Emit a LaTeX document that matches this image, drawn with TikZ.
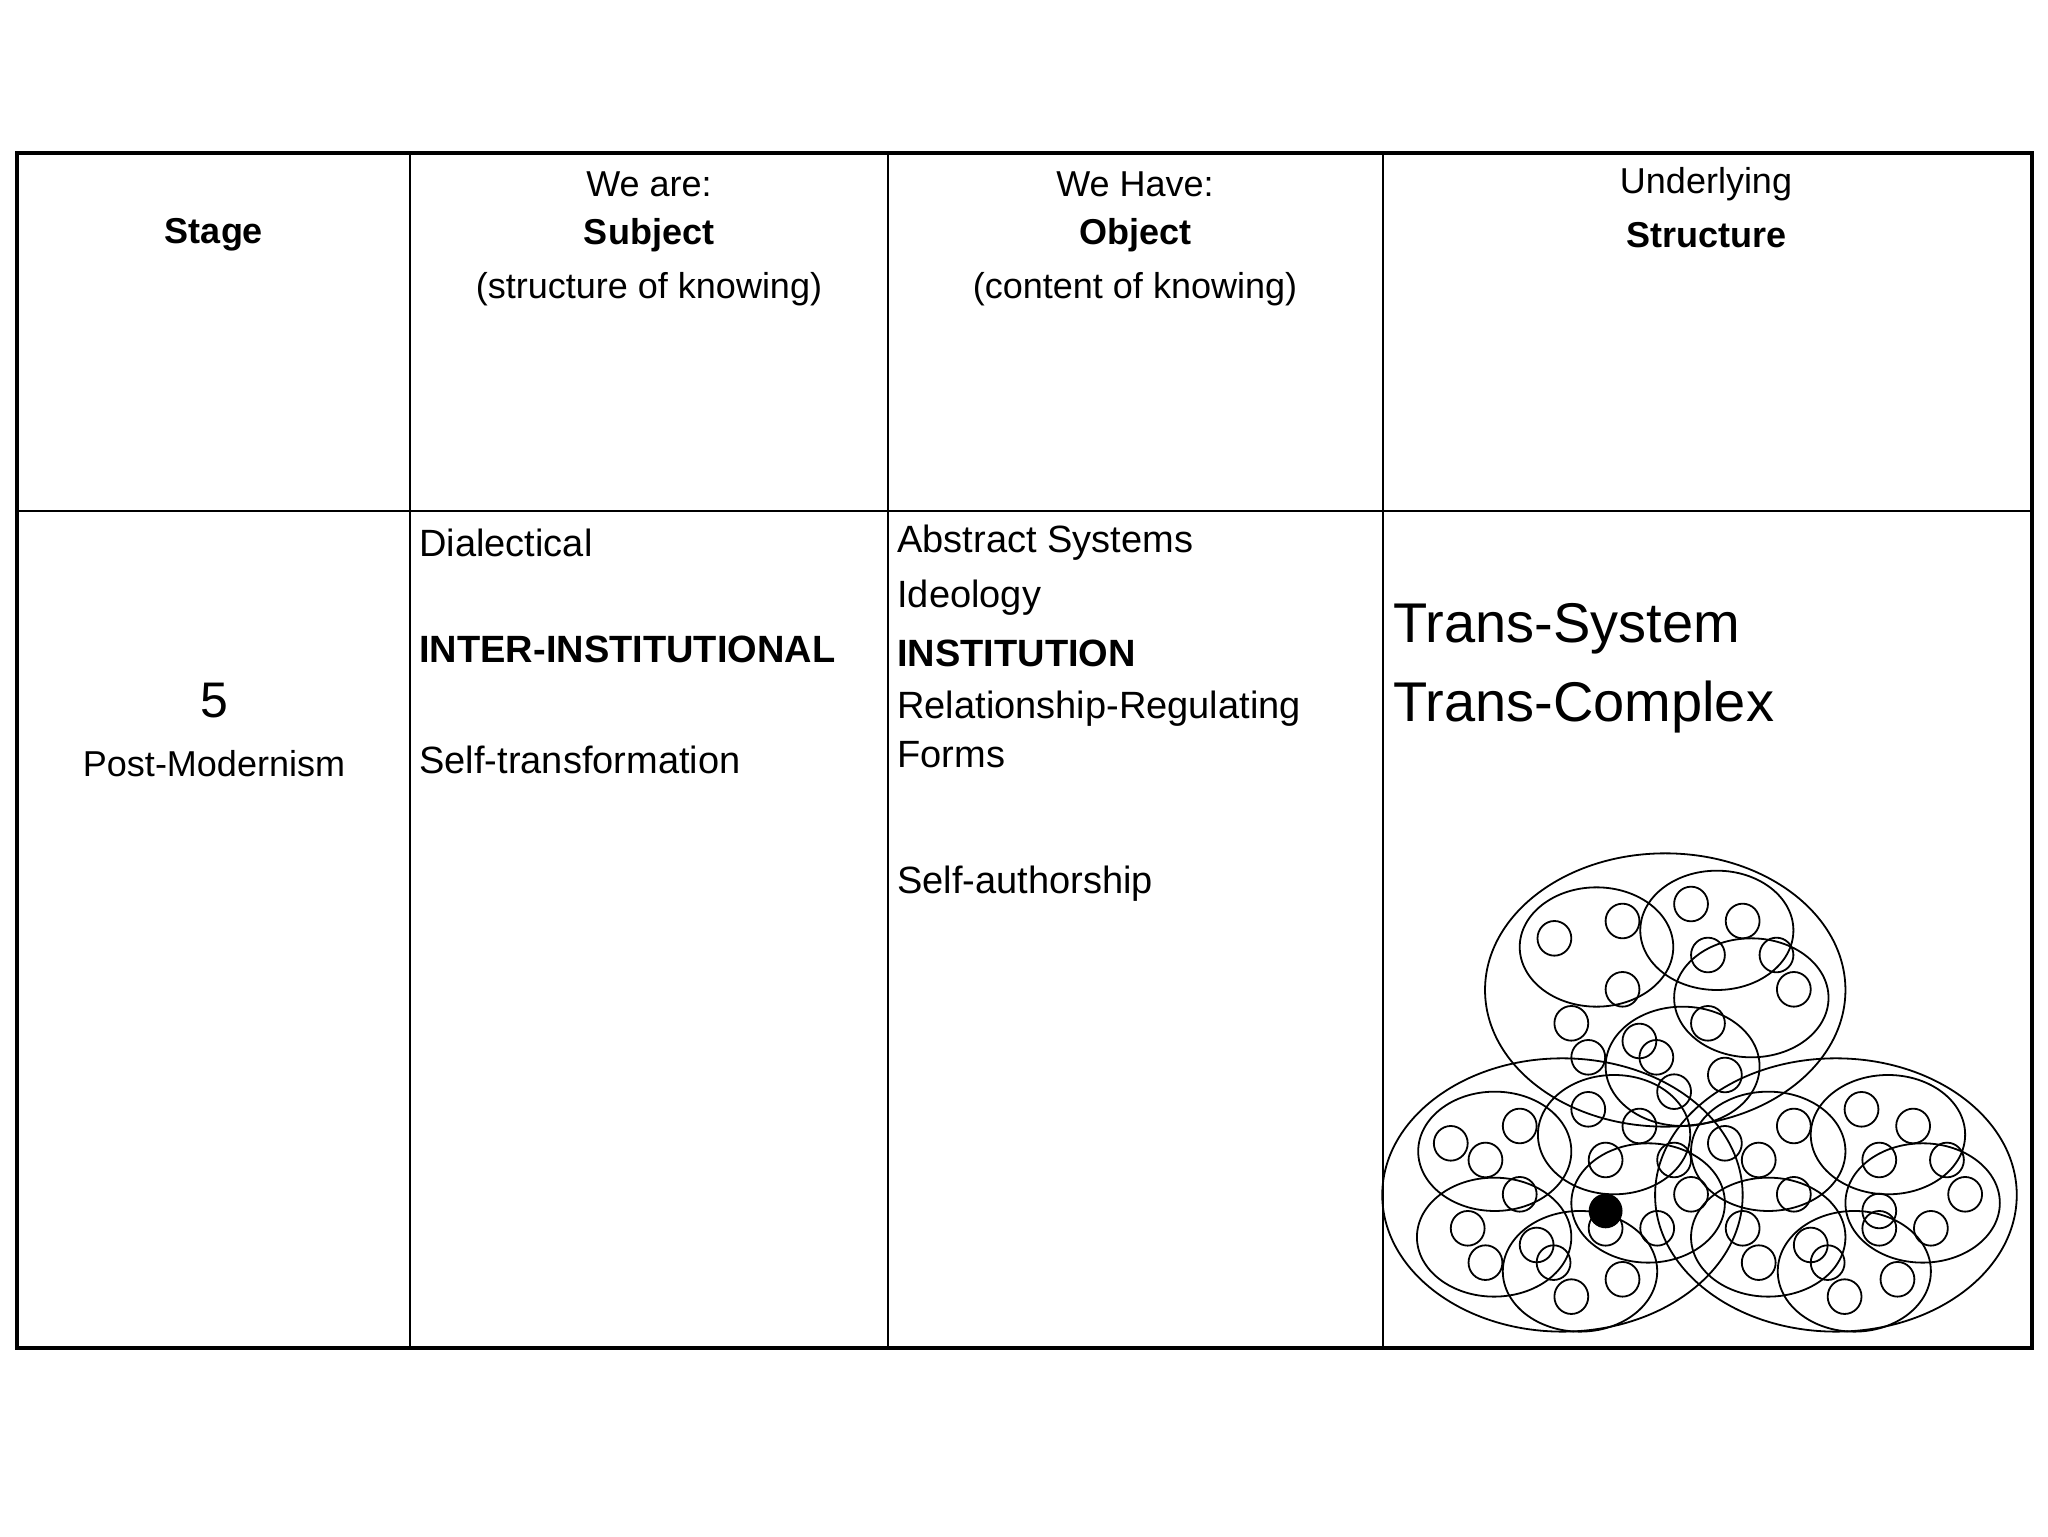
\documentclass[tikz,border=0pt]{standalone}
\usepackage{fontspec}
\setmainfont{Liberation Sans}
\begin{document}
\begin{tikzpicture}[x=0.5pt,y=-0.5pt,
  hd/.style={font=\fontsize{18}{20}\selectfont,anchor=center,inner sep=0},
  bd/.style={font=\fontsize{19}{21}\selectfont,anchor=west,inner sep=0},
  big/.style={font=\fontsize{28}{30}\selectfont,anchor=west,inner sep=0},
  ring/.style={draw=black,line width=0.9pt}]
\useasboundingbox (0,0) rectangle (2048,1536);
\fill[white] (0,0) rectangle (2048,1536);
% table
\draw[line width=0.7pt] (17,511) -- (2032,511);
\foreach \c in {410,888,1383} \draw[line width=0.7pt] (\c,153) -- (\c,1348);
\draw[line width=1.6pt] (17,153) rectangle (2032,1348);
% headers
\node[hd] (h1) at (214,235) {\textbf{Stage}};
\node[hd] (h2a) at (649,184) {We are:};
\node[hd] (h2b) at (649,235) {\textbf{Subject}};
\node[hd] (h2c) at (649,289) {(structure of knowing)};
\node[hd] (h3a) at (1135,184) {We Have:};
\node[hd] (h3b) at (1135,235) {\textbf{Object}};
\node[hd] (h3c) at (1135,289) {(content of knowing)};
\node[hd] (h4a) at (1706,184) {Underlying};
\node[hd] (h4b) at (1706,235) {\textbf{Structure}};
% body
\node[font=\fontsize{25}{27}\selectfont,inner sep=0] (n5) at (214,701) {5};
\node[hd] (pm) at (214,764) {Post-Modernism};
\node[bd] (s1) at (419,543) {Dialectical};
\node[bd] (s2) at (419,649) {\textbf{INTER-INSTITUTIONAL}};
\node[bd] (s3) at (419,760) {Self-transformation};
\node[bd] (o1) at (897,543) {Abstract Systems};
\node[bd] (o2) at (897,598) {Ideology};
\node[bd] (o3) at (897,653) {\textbf{INSTITUTION}};
\node[bd] (o4) at (897,709) {Relationship-Regulating};
\node[bd] (o5) at (897,755) {Forms};
\node[bd] (o6) at (897,884) {Self-authorship};
\node[big] (t1) at (1393,629) {Trans-System};
\node[big] (t2) at (1393,707) {Trans-Complex};
% structure drawing (zoom coordinates)
\begin{scope}[shift={(1378,840)},xscale=0.4230,yscale=0.3333]
 % big ellipses
 \foreach \a/\b/\c/\d in {253/1105/40/860, 10/862/655/1475, 655/1510/655/1475}
   \draw[ring] ({(\a+\b)/2},{(\c+\d)/2}) ellipse [x radius={(\b-\a)/2}, y radius={(\d-\c)/2}];
 % medium ellipses
 \foreach \a/\b/\c/\d in {335/698/142/500, 620/982/92/450, 700/1065/295/652, 538/902/500/858,
   95/457/755/1113, 378/738/705/1063, 92/457/1013/1370, 295/660/1113/1475, 457/820/910/1268,
   740/1105/755/1113, 1023/1388/705/1063, 1105/1470/910/1268, 740/1105/1013/1370, 945/1307/1113/1475}
   \draw[ring] ({(\a+\b)/2},{(\c+\d)/2}) ellipse [x radius={(\b-\a)/2}, y radius={(\d-\c)/2}];
 % small circles
 \foreach \p/\q in {417/295,578/243,578/448,740/192,862/243,780/345,942/345,983/448,780/550,
   457/550,497/652,618/603,658/652,820/705,700/755,497/808,618/858,335/858,172/910,254/960,
   538/960,700/960,335/1063,538/1165,212/1165,660/1165,740/1063,375/1215,415/1268,254/1268,
   578/1318,457/1370,820/910,983/858,900/960,983/1063,862/1165,900/1268,1023/1215,1063/1268,
   1103/1370,1228/1318,1143/808,1265/858,1185/960,1345/960,1388/1063,1185/1113,1185/1165,1307/1165}
   \draw[ring] (\p,\q) ellipse [x radius=40, y radius=52];
 \fill[black] (538,1113) ellipse [x radius=40, y radius=52];
\end{scope}
\end{tikzpicture}
\end{document}
